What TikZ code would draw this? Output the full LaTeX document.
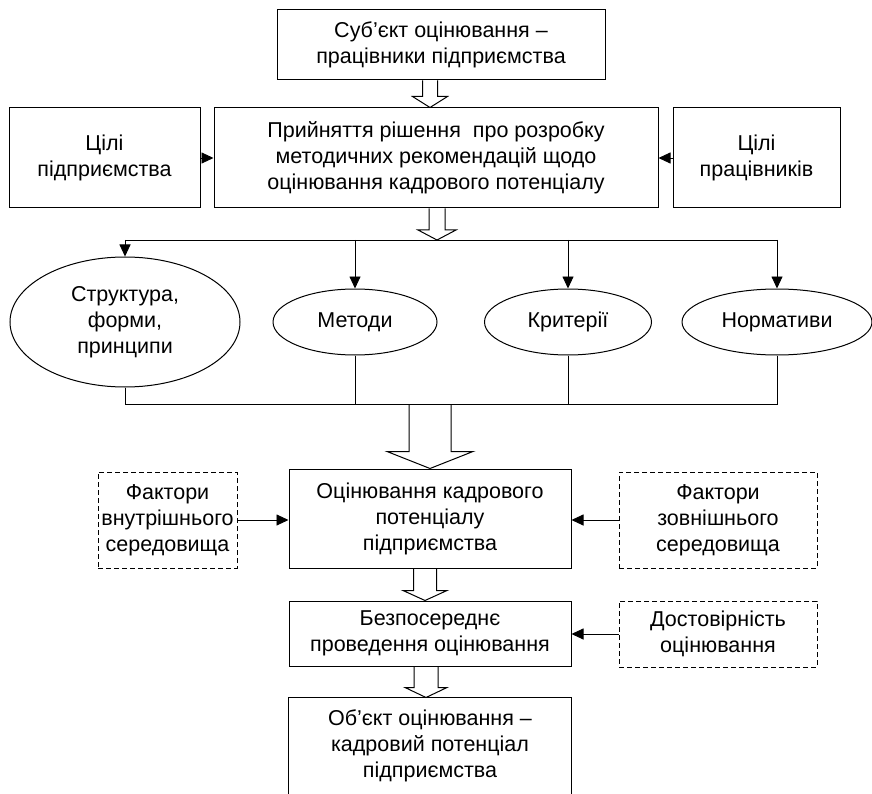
\documentclass[tikz,border=0pt]{standalone}
\usepackage{fontspec}
\setmainfont{Liberation Sans}
\usetikzlibrary{arrows.meta,calc,shapes.geometric}
\newcommand\fs{\fontsize{21.5}{26}\selectfont}
\tikzset{
  box/.style={draw, line width=1pt, align=center, inner sep=0pt, font=\fs},
  dbox/.style={box, dash pattern=on 5pt off 3pt},
  ell/.style={draw, ellipse, line width=1pt, align=center, inner sep=0pt, font=\fs},
  ln/.style={line width=0.9pt},
  arr/.style={ln, -{Triangle[length=12pt,width=11pt]}},
  hol/.style={draw, line width=1pt, line join=miter},
}
\newcommand\hollowarrow[5]{%
  \path[hol] let \p1=(#1), \p2=(#2) in
   (\x1-#3pt,\y1) -- (\x1-#3pt,\y2+#5pt) -- (\x1-#4pt,\y2+#5pt) -- (\x1,\y2)
   -- (\x1+#4pt,\y2+#5pt) -- (\x1+#3pt,\y2+#5pt) -- (\x1+#3pt,\y1);}
\begin{document}
\begin{tikzpicture}[x=1pt,y=-1pt]
\useasboundingbox (0,0) rectangle (872,794);
% top
\node[box, minimum width=328, minimum height=70] (b0) at (441,45)
  {Суб’єкт оцінювання –\\працівники підприємства};
\node[box, minimum width=191, minimum height=100] (gl) at (104.5,158)
  {Цілі\\підприємства};
\node[box, minimum width=444, minimum height=100] (b1) at (436,158)
  {Прийняття рішення\ \ про розробку\\методичних рекомендацій щодо\\оцінювання кадрового потенціалу};
\node[box, minimum width=167, minimum height=100] (gr) at (756.5,158)
  {Цілі\\працівників};
\draw[arr] (gl.east) -- (b1.west);
\draw[arr] (gr.west) -- (b1.east);
\hollowarrow{$(b0.south)+(-11,0)$}{b1.north}{7.5}{17.5}{11}
% ellipses
\node[ell, minimum width=230, minimum height=130] (e1) at (125,322)
  {Структура,\\форми,\\принципи};
\node[ell, minimum width=164, minimum height=66] (e2) at (355,322) {Методи};
\node[ell, minimum width=167, minimum height=66] (e3) at (568,322) {Критерії};
\node[ell, minimum width=190, minimum height=66] (e4) at (777,322) {Нормативи};
\coordinate (jt) at (437,240);
\coordinate (jb) at (430,404);
\hollowarrow{$(b1.south)+(1,0)$}{jt}{8}{19}{10}
\draw[ln] (e1.north |- jt) -- (e4.north |- jt);
\draw[arr] (e1.north |- jt) -- (e1.north);
\draw[arr] (e2.north |- jt) -- (e2.north);
\draw[arr] (e3.north |- jt) -- (e3.north);
\draw[arr] (e4.north |- jt) -- (e4.north);
\draw[ln] (e1.south) -- (e1.south |- jb) -- (e4.south |- jb) -- (e4.south);
\draw[ln] (e2.south) -- (e2.south |- jb);
\draw[ln] (e3.south) -- (e3.south |- jb);
% middle
\node[box, minimum width=282, minimum height=99] (b2) at (430,518.5)
  {Оцінювання кадрового\\потенціалу\\підприємства};
\hollowarrow{jb}{b2.north}{21}{43}{17}
\node[dbox, minimum width=139, minimum height=96] (dl) at (167.5,520)
  {Фактори\\внутрішнього\\середовища};
\node[dbox, minimum width=198, minimum height=96] (dr) at (718,520)
  {Фактори\\зовнішнього\\середовища};
\draw[arr] (dl.east) -- (b2.west |- dl.east);
\draw[arr] (dr.west) -- (b2.east |- dr.west);
\node[box, minimum width=282, minimum height=65] (b3) at (430,633.5)
  {Безпосереднє\\проведення оцінювання};
\hollowarrow{$(b2.south)+(-5,0)$}{b3.north}{11.5}{22}{10}
\node[dbox, minimum width=198, minimum height=66] (dd) at (718,634)
  {Достовірність\\оцінювання};
\draw[arr] (dd.west) -- (b3.east |- dd.west);
\node[box, draw=none, minimum width=282, minimum height=96] (b4) at (430,746)
  {Об’єкт оцінювання –\\кадровий потенціал\\підприємства};
\draw[line width=1pt] (b4.south west) -- (b4.north west) -- (b4.north east) -- (b4.south east);
\hollowarrow{$(b3.south)+(-4,0)$}{b4.north}{12}{21}{10}
\end{tikzpicture}
\end{document}
